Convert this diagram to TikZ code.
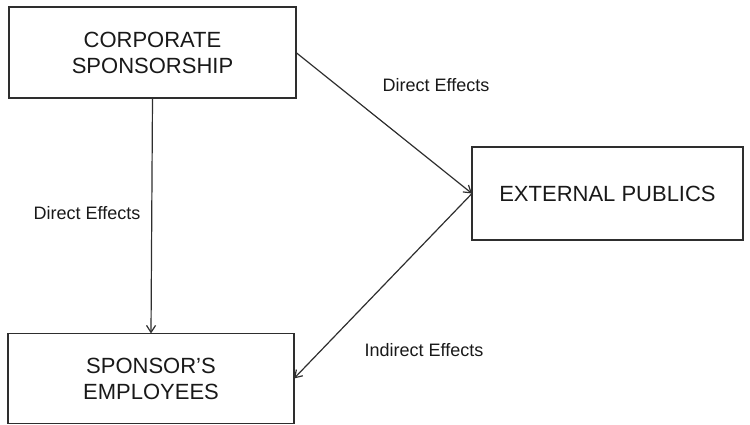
\documentclass[tikz,border=0pt]{standalone}
\usepackage{fontspec}
\setmainfont{Liberation Sans}
\usetikzlibrary{arrows.meta}
\definecolor{linegray}{HTML}{2E2E2E}
\tikzset{
  box/.style={draw=linegray, line width=1.8pt, inner sep=0pt, outer sep=0pt,
    align=center, font=\fontsize{22}{26}\selectfont, text=black!90},
  conn/.style={draw=linegray, line width=1.2pt, -{Straight Barb[length=7pt,width=9pt]}},
  lbl/.style={font=\fontsize{18}{21}\selectfont, text=black!90, inner sep=0pt}
}
\begin{document}
\begin{tikzpicture}[x=1pt,y=-1pt]
\useasboundingbox (0,0) rectangle (750,424);
\node[box, minimum width=287pt, minimum height=91pt] (cs) at (152.5,52.5) {CORPORATE\\SPONSORSHIP};
\node[box, minimum width=271pt, minimum height=93pt] (ep) at (607.5,193.5) {EXTERNAL PUBLICS};
\node[box, minimum width=286pt, minimum height=90pt] (se) at (151,378.5) {SPONSOR'S\\EMPLOYEES};
\draw[conn] (cs.east) -- (ep.west);
\draw[conn] (cs.south) -- (se.north);
\draw[conn] (ep.west) -- (se.east);
\node[lbl] (l1) at (436,85) {Direct Effects};
\node[lbl] (l2) at (87,213) {Direct Effects};
\node[lbl] (l3) at (424,350) {Indirect Effects};
\end{tikzpicture}
\end{document}
